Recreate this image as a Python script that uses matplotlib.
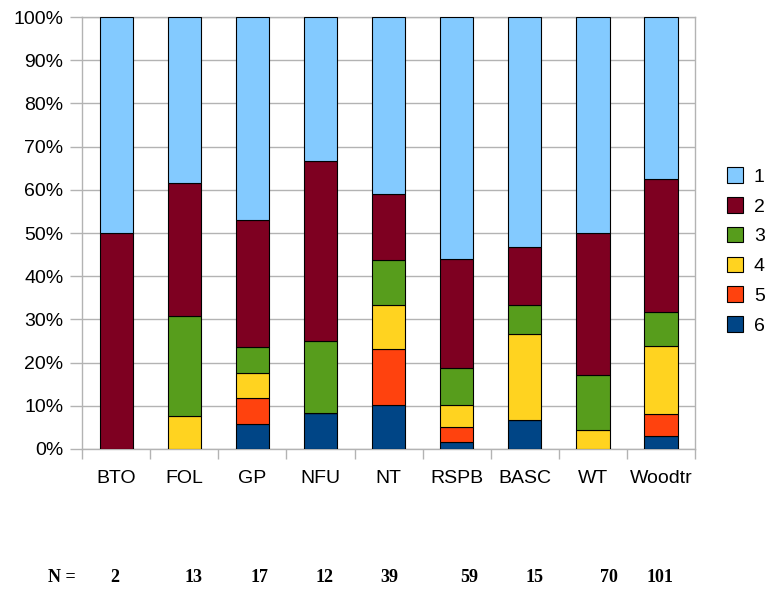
import numpy as np
import matplotlib
matplotlib.use('Agg')
import matplotlib.pyplot as plt
from matplotlib.patches import Patch

plt.rcParams['font.family'] = ['Liberation Sans', 'DejaVu Sans']

# Organisations and sample sizes
groups = ['BTO', 'FOL', 'GP', 'NFU', 'NT', 'RSPB', 'BASC', 'WT', 'Woodtr']
n_values = [2, 13, 17, 12, 39, 59, 15, 70, 101]

# Percent of answers per score
score_1 = [50.0, 38.5, 47.1, 33.3, 41.0, 55.9, 53.3, 50.0, 37.6]
score_2 = [50.0, 30.8, 29.4, 41.7, 15.4, 25.4, 13.3, 32.9, 30.7]
score_3 = [0.0, 23.1, 5.9, 16.7, 10.3, 8.5, 6.7, 12.9, 7.9]
score_4 = [0.0, 7.7, 5.9, 0.0, 10.3, 5.1, 20.0, 4.3, 15.8]
score_5 = [0.0, 0.0, 5.9, 0.0, 12.8, 3.4, 0.0, 0.0, 5.0]
score_6 = [0.0, 0.0, 5.9, 8.3, 10.3, 1.7, 6.7, 0.0, 3.0]

series_labels = ['1', '2', '3', '4', '5', '6']
colors = ['#83caff', '#7e0021', '#579d1c', '#ffd320', '#ff420e', '#004586']

fig = plt.figure(figsize=(7.68, 5.89), dpi=100)
ax = fig.add_axes([0.107, 0.2377, 0.798, 0.7333])

x = np.arange(len(groups))
stack = [score_6, score_5, score_4, score_3, score_2, score_1]
stack_colors = colors[::-1]
bottom = np.zeros(len(groups))
for vals, col in zip(stack, stack_colors):
    vals = np.array(vals)
    ax.bar(x, vals, width=0.49, bottom=bottom, color=col,
           edgecolor='black', linewidth=0.8, zorder=3)
    bottom += vals

ax.set_xlim(-0.5, len(groups) - 0.5)
ax.set_ylim(0, 100)
ax.set_yticks(np.arange(0, 101, 10))
ax.set_yticklabels([str(v) + '%' for v in range(0, 101, 10)])
ax.set_xticks(x)
ax.set_xticklabels(groups)
ax.set_xticks(np.arange(-0.5, len(groups), 1), minor=True)

ax.grid(axis='y', color='#b3b3b3', linewidth=1, zorder=0)
for s in ax.spines.values():
    s.set_color('#b3b3b3')
    s.set_linewidth(1)

ax.tick_params(axis='y', length=8.5, width=1, color='#b3b3b3',
               labelsize=14, pad=5)
ax.tick_params(axis='x', which='major', length=0, labelsize=14, pad=15)
ax.tick_params(axis='x', which='minor', length=7.5, width=1,
               color='#b3b3b3')

handles = [Patch(facecolor=c, edgecolor='black', linewidth=0.8)
           for c in colors]
fig.legend(handles, series_labels, loc='upper left',
           bbox_to_anchor=(0.946, 0.716), frameon=False, fontsize=14,
           handlelength=0.85, handleheight=0.85, handletextpad=0.55,
           labelspacing=0.58, borderaxespad=0, borderpad=0)

# Sample sizes under the chart
n_x = [114.5, 194, 259.5, 325, 389, 469, 534.5, 608.5, 660]
row_y = 1 - 577 / 589
fig.text(62 / 768, row_y, 'N =', ha='center', va='center',
         family='Liberation Serif', fontweight='bold', fontsize=13)
for xp, n in zip(n_x, n_values):
    fig.text(xp / 768, row_y, str(n), ha='center', va='center',
             family='Liberation Serif', fontweight='bold', fontsize=13)

fig.savefig('out.png', dpi=100)
